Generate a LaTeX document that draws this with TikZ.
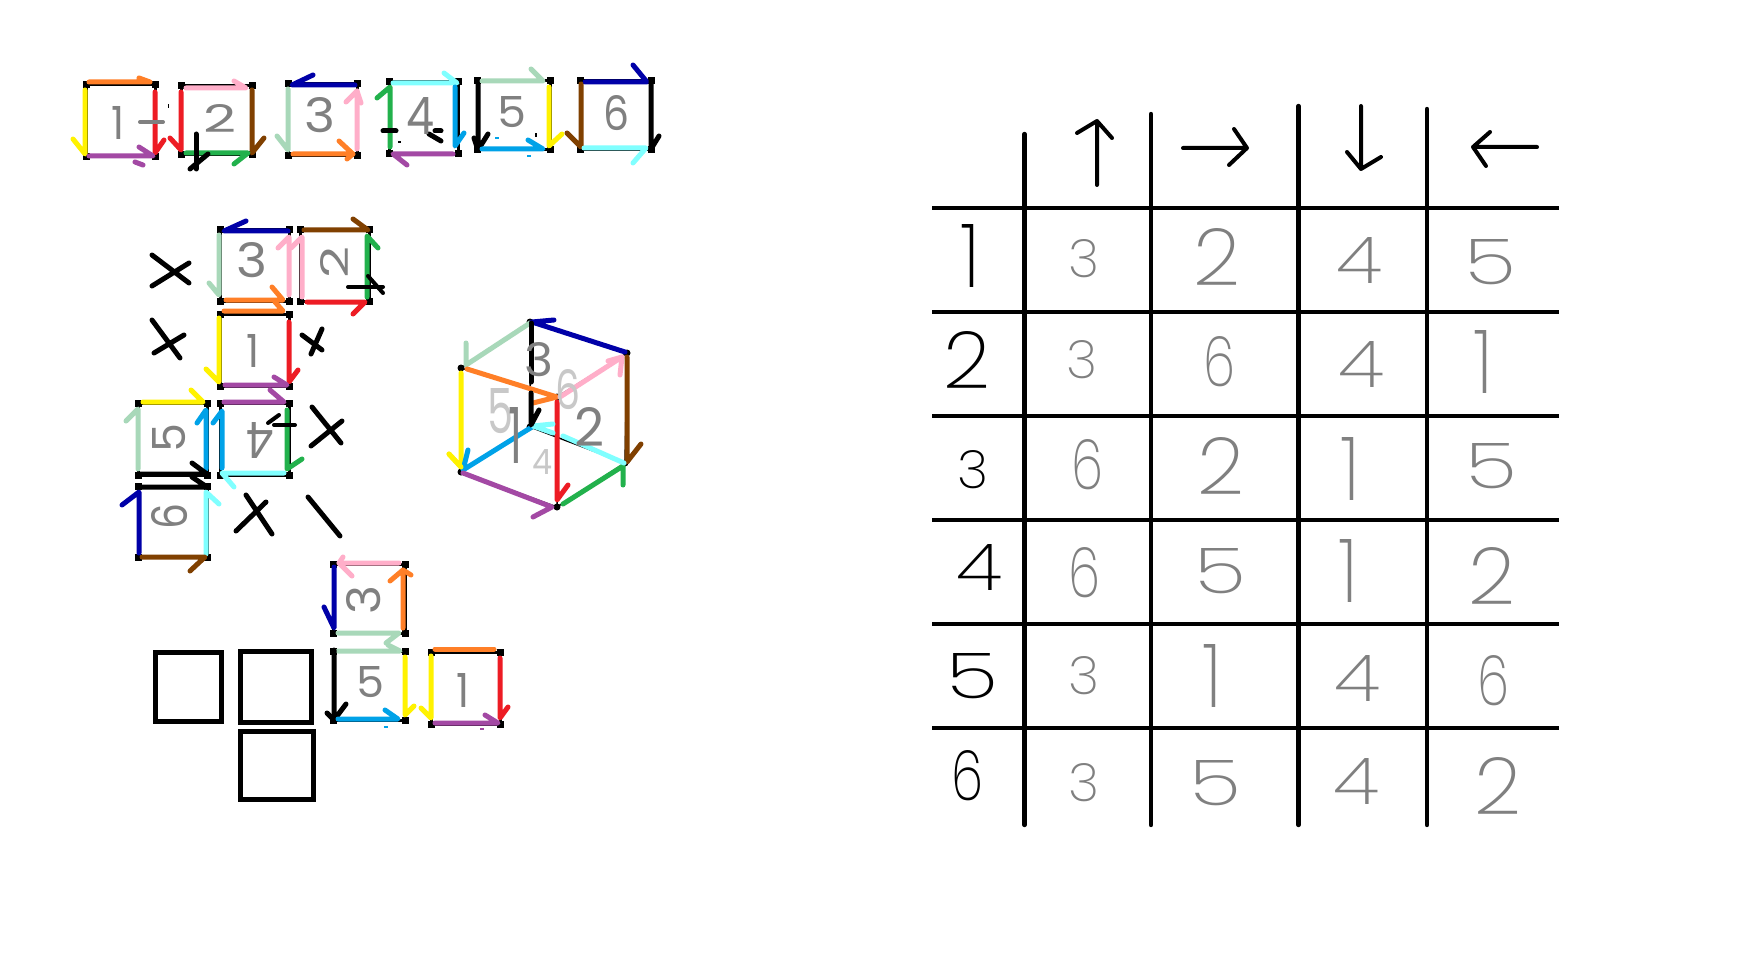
\documentclass[tikz,border=0pt]{standalone}
\usepackage{fontspec}
\newfontfamily\tdigf[UprightFont={* ExtraLight}]{Poppins}
\newfontfamily\sdigf{Poppins}
\definecolor{cOrange}{HTML}{FF7F27}
\definecolor{cYellow}{HTML}{FFF200}
\definecolor{cRed}{HTML}{ED1C24}
\definecolor{cPurple}{HTML}{A349A4}
\definecolor{cPink}{HTML}{FFAEC9}
\definecolor{cBrown}{HTML}{804000}
\definecolor{cGreen}{HTML}{22B14C}
\definecolor{cNavy}{HTML}{0000A8}
\definecolor{cMint}{HTML}{A8D8B9}
\definecolor{cCyan}{HTML}{80FFFF}
\definecolor{cBlue}{HTML}{00A2E8}
\definecolor{cGray}{HTML}{808080}
\definecolor{cLight}{HTML}{C8C8C8}
\newcounter{dg}
\tikzset{
  paint/.style={line width=5pt,line cap=round,line join=round},
  frame/.style={line width=3pt,black,line join=miter},
  sq/.style={line width=5pt,black,line join=miter},
  grid/.style={line width=4.4pt,black,line cap=round},
  pen/.style={line width=4pt,black,line cap=round,line join=round},
  stroke/.style={line width=3pt,line cap=round,line join=round},
  dig/.style={inner sep=0pt,outer sep=0pt}
}
% edge: colour, tail, tip, barb
\newcommand{\ed}[4]{\draw[paint,#1] (#2) -- (#3) -- (#4);}
% framed face with black corners
\newcommand{\fc}[4]{%
  \draw[frame] (#1,#2) rectangle (#3,#4);
  \foreach \cx in {#1,#3}{\foreach \cy in {#2,#4}{\fill[black] (\cx-3.5,\cy-3.5) rectangle (\cx+3.5,\cy+3.5);}}%
}
% small digit: x,y,colour,rotate,w,h,digit
\newcommand{\sg}[7]{\stepcounter{dg}\node[dig,text=#3,rotate=#4,font=\sdigf\fontsize{38}{38}\selectfont] (n\thedg) at (#1,#2) {\resizebox{#5pt}{#6pt}{#7}};}
% table digit: x,y,colour,digit
\newcommand{\twd}[1]{\ifcase#1\or20\or47\or31\or46\or52\or32\fi}
\newcommand{\thd}[1]{\ifcase#1\or63\or57\or38\or46\or45\or50\fi}
\newcommand{\tg}[4]{\stepcounter{dg}\node[dig,text=#3,font=\tdigf\fontsize{60}{60}\selectfont] (n\thedg) at (#1,#2) {\resizebox{\twd{#4}pt}{\thd{#4}pt}{#4}};}
\begin{document}
\begin{tikzpicture}[x=1pt,y=-1pt]
\useasboundingbox (0,0) rectangle (1759,960);
\fill[white] (0,0) rectangle (1759,960);

% ===== top row =====
\fc{86}{85}{155}{157}
\ed{cOrange}{89,82}{150,82}{139,78}
\ed{cYellow}{85,90}{85,154}{73,139}
\ed{cRed}{155,92}{155,153}{164,140}
\ed{cPurple}{89,156}{153,156}{139,147}
\draw[paint,cPurple] (135,162) -- (143,165);
\sg{118}{123}{cGray}{0}{13}{33}{1}
\draw[stroke,cGray,line width=4pt] (140,122) -- (163,122);
\fill[black] (167.5,104) rectangle (169,108);

\fc{181}{86}{252}{155}
\ed{cPink}{186,88}{246,88}{234,81}
\ed{cRed}{181,92}{181,150}{170,138}
\ed{cBrown}{252,90}{252,153}{264,138}
\ed{cGreen}{186,153}{248,153}{234,164}
\draw[pen,line width=5pt] (196,134) -- (196,169);
\draw[pen,line width=5pt] (208,154) -- (190,169);
\sg{220}{119}{cGray}{0}{33}{28}{2}

\fc{288}{84}{357}{156}
\ed{cNavy}{355,85}{292,85}{313,75}
\ed{cMint}{288,89}{288,150}{277,136}
\ed{cPink}{357,149}{357,91}{346,102}
\draw[paint,cPink] (357,91) -- (361,103);
\ed{cOrange}{293,154}{353,154}{339,141}
\draw[paint,cOrange] (353,154) -- (347,159);
\sg{320}{115}{cGray}{0}{31}{35}{3}

\fc{389}{82}{458}{154}
\ed{cCyan}{393,83}{457,83}{444,73}
\ed{cGreen}{390,147}{390,87}{377,98}
\ed{cBlue}{455,87}{455,146}{464,133}
\ed{cPurple}{453,154}{393,154}{407,165}
\draw[pen,line width=5pt] (383,131) -- (396,131);
\draw[pen,line width=5pt] (429,134) -- (441,141);
\draw[pen,line width=5pt] (435,131) -- (441,131);
\fill[black] (398,141) rectangle (401,143);
\sg{420}{116}{cGray}{0}{28}{37}{4}

\fc{477}{81}{550}{150}
\draw[paint,black,line width=5pt] (478,80) -- (478,150) -- (488,134);
\draw[paint,black] (478,150) -- (474,138);
\ed{cMint}{482,81}{543,81}{531,69}
\ed{cYellow}{549,87}{549,146}{562,134}
\ed{cBlue}{482,149}{543,149}{528,140}
\fill[cBlue] (495,137) rectangle (499,139);
\fill[cBlue] (527,155) rectangle (531,157);
\fill[black] (535,133) rectangle (537,137);
\sg{512}{112}{cGray}{0}{29}{31}{5}

\fc{580}{81}{651}{150}
\ed{cNavy}{585,82}{647,82}{633,65}
\ed{cBrown}{581,84}{581,147}{567,133}
\draw[paint,black,line width=5pt] (651,80) -- (651,149) -- (659,136);
\ed{cCyan}{584,148}{646,148}{633,163}
\sg{616}{113}{cGray}{0}{26}{35}{6}

% ===== net =====
\fc{220}{230}{289}{301}
\ed{cNavy}{288,231}{224,231}{246,221}
\ed{cMint}{219,235}{219,295}{209,283}
\ed{cPink}{289,295}{289,237}{278,248}
\ed{cOrange}{226,300}{283,300}{272,287}
\sg{252}{260}{cGray}{0}{31}{35}{3}

\fc{300}{230}{369}{301}
\ed{cBrown}{304,230}{368,230}{353,219}
\ed{cPink}{302,297}{302,237}{291,248}
\ed{cGreen}{367,297}{367,236}{378,248}
\ed{cRed}{307,302}{365,302}{353,314}
\sg{334}{262}{cGray}{90}{32}{28}{2}
\draw[pen] (348,287) -- (383,287);
\draw[pen] (368,276) -- (383,293);

\fc{220}{314}{289}{386}
\ed{cOrange}{224,311}{283,311}{275,302}
\ed{cYellow}{219,318}{219,382}{206,369}
\ed{cRed}{289,322}{289,382}{298,370}
\ed{cPurple}{225,385}{287,385}{274,377}
\sg{253}{351}{cGray}{0}{13}{33}{1}

\fc{138}{403}{207}{475}
\ed{cYellow}{143,402}{203,402}{191,390}
\ed{cMint}{138,469}{138,409}{126,421}
\ed{cBlue}{206,469}{206,410}{197,423}
\draw[paint,black] (138,474) -- (207,474) -- (192,463);
\sg{169}{438}{cGray}{90}{29}{33}{5}

\fc{220}{403}{289}{475}
\ed{cPurple}{224,402}{284,402}{270,390}
\ed{cBlue}{222,468}{222,411}{213,423}
\ed{cGreen}{287,410}{287,469}{302,459}
\ed{cCyan}{284,473}{222,473}{234,487}
\sg{260}{440}{cGray}{180}{28}{36}{4}
\draw[pen] (274,425) -- (295,425);
\draw[pen] (268,423) -- (279,415);

\fc{138}{486}{207}{557}
\draw[paint,black] (138,487) -- (207,487) -- (192,477);
\ed{cNavy}{139,553}{139,492}{122,505}
\ed{cCyan}{206,554}{206,492}{219,504}
\ed{cBrown}{142,557}{205,557}{190,571}
\sg{170}{516}{cGray}{90}{26}{36}{6}

\fc{333}{564}{405}{633}
\ed{cPink}{399,563}{339,563}{352,576}
\draw[paint,cPink] (339,563) -- (343,557);
\ed{cNavy}{334,567}{334,628}{324,607}
\ed{cOrange}{403,628}{403,570}{390,581}
\draw[paint,cOrange] (403,570) -- (411,575);
\ed{cMint}{338,633}{399,633}{386,643}
\sg{364}{600}{cGray}{90}{29}{34}{3}

\draw[sq] (155.5,652.5) rectangle (221.5,721.5);
\draw[sq] (240.5,651.5) rectangle (311.5,722.5);
\draw[sq] (240.5,731.5) rectangle (313.5,799.5);

\fc{333}{651}{405}{720}
\ed{cMint}{338,651}{400,651}{388,645}
\draw[paint,black,line width=5pt] (334,650) -- (334,720) -- (346,704);
\draw[paint,black] (334,720) -- (327,713);
\ed{cYellow}{405,657}{405,715}{414,706}
\ed{cBlue}{338,719}{398,719}{385,710}
\fill[cBlue] (384,726) rectangle (388,728);
\sg{370}{682}{cGray}{0}{28}{31}{5}

\fc{431}{652}{500}{724}
\draw[paint,cOrange] (435,649) -- (494,649);
\ed{cYellow}{431,656}{431,718}{421,708}
\ed{cRed}{500,658}{500,718}{508,707}
\ed{cPurple}{435,723}{498,723}{485,715}
\fill[cPurple] (480,728) rectangle (484,730);
\sg{463}{690}{cGray}{0}{13}{34}{1}

% crosses
\draw[pen,line width=5pt] (152,255) -- (189,283) (152,286) -- (189,263);
\draw[pen,line width=5pt] (152,320) -- (180,358) (154,353) -- (184,335);
\draw[pen,line width=5pt] (302,335) -- (322,350) (322,329) -- (311,354);
\draw[pen,line width=5pt] (312,407) -- (341,443) (311,446) -- (342,421);
\draw[pen,line width=5pt] (246,495) -- (272,534) (236,531) -- (266,502);
\draw[pen,line width=5pt] (308,497) -- (340,536);

% ===== cube =====
\coordinate (A) at (461,368); \coordinate (B) at (530,322);
\coordinate (C) at (627,353); \coordinate (D) at (557,397);
\coordinate (E) at (461,472); \coordinate (F) at (557,507);
\coordinate (G) at (625,463); \coordinate (H) at (530,427);
\draw[black,line width=1.5pt] (A)--(B)--(C)--(G)--(F)--(E)--(A) (A)--(D)--(C) (D)--(F) (B)--(H)--(E) (H)--(G);
\foreach \v in {A,B,C,D,E,F,G,H}{\fill[black] (\v) circle (3.5pt);}
\ed{cMint}{530,323}{466,365}{466,343}
\ed{cNavy}{625,352}{532,322}{554,320}
\ed{cOrange}{467,369}{557,397}{533,403}
\ed{cPink}{560,397}{622,357}{620,375}
\draw[paint,cPink] (622,357) -- (608,361);
\ed{cBrown}{627,357}{627,462}{641,444}
\ed{cYellow}{461,373}{461,467}{449,454}
\ed{cRed}{557,402}{557,500}{568,485}
\ed{cBlue}{532,427}{463,470}{468,450}
\draw[paint,cYellow] (461,467) -- (449,454);
\ed{cPurple}{463,473}{552,507}{533,517}
\ed{cGreen}{563,504}{623,466}{623,485}
\draw[paint,cCyan] (624,463) -- (563,436);
\ed{cCyan}{553,433}{533,426}{553,424}
\draw[paint,black] (531,323) -- (531,382);
\draw[paint,black] (531,393) -- (531,425) -- (539,410);
\sg{568}{390}{cLight}{0}{25}{40}{6}
\sg{500}{411}{cLight}{0}{26}{45}{5}
\sg{542}{462}{cLight}{0}{20}{25}{4}
\sg{539}{360}{cGray}{0}{29}{34}{3}
\sg{515}{435}{cGray}{0}{14}{56}{1}
\sg{589}{427}{cGray}{0}{30}{39}{2}

% ===== table =====
\foreach \ry in {208,312,416,520,624,728}{\draw[line width=4.4pt,black] (932,\ry) -- (1559,\ry);}
\coordinate (v1) at (1024.5,134); \coordinate (v2) at (1151,114);
\coordinate (v3) at (1298.5,106); \coordinate (v4) at (1427,109);
\draw[grid] (v1) -- (1024.5,825);
\draw[grid] (v2) -- (1151,825);
\draw[grid] (v3) -- (1298.5,825);
\draw[grid] (v4) -- (1427,825);
% header arrows
\draw[pen] (1097,185) -- (1097,121) (1077,133) -- (1097,121) -- (1112,138);
\draw[pen] (1183,148) -- (1247,148) (1234,129) -- (1247,148) -- (1229,165);
\draw[pen] (1361,106) -- (1361,169) (1347,152) -- (1361,169) -- (1381,157);
\draw[pen] (1537,147) -- (1473,147) (1490,132) -- (1473,147) -- (1486,166);
% rows
\tg{970}{256}{black}{1}\tg{1084}{259}{cGray}{3}\tg{1217}{257}{cGray}{2}\tg{1359}{260}{cGray}{4}\tg{1490}{262}{cGray}{5}
\tg{967}{360}{black}{2}\tg{1082}{360}{cGray}{3}\tg{1219}{362}{cGray}{6}\tg{1361}{364}{cGray}{4}\tg{1483}{362}{cGray}{1}
\tg{973}{470}{black}{3}\tg{1087}{465}{cGray}{6}\tg{1221}{466}{cGray}{2}\tg{1350}{469}{cGray}{1}\tg{1491}{466}{cGray}{5}
\tg{979}{567}{black}{4}\tg{1084}{573}{cGray}{6}\tg{1220}{571}{cGray}{5}\tg{1348}{571}{cGray}{1}\tg{1492}{576}{cGray}{2}
\tg{972}{676}{black}{5}\tg{1084}{676}{cGray}{3}\tg{1212}{676}{cGray}{1}\tg{1357}{678}{cGray}{4}\tg{1493}{681}{cGray}{6}
\tg{967}{776}{black}{6}\tg{1084}{783}{cGray}{3}\tg{1215}{783}{cGray}{5}\tg{1356}{781}{cGray}{4}\tg{1498}{786}{cGray}{2}
\end{tikzpicture}
\end{document}
